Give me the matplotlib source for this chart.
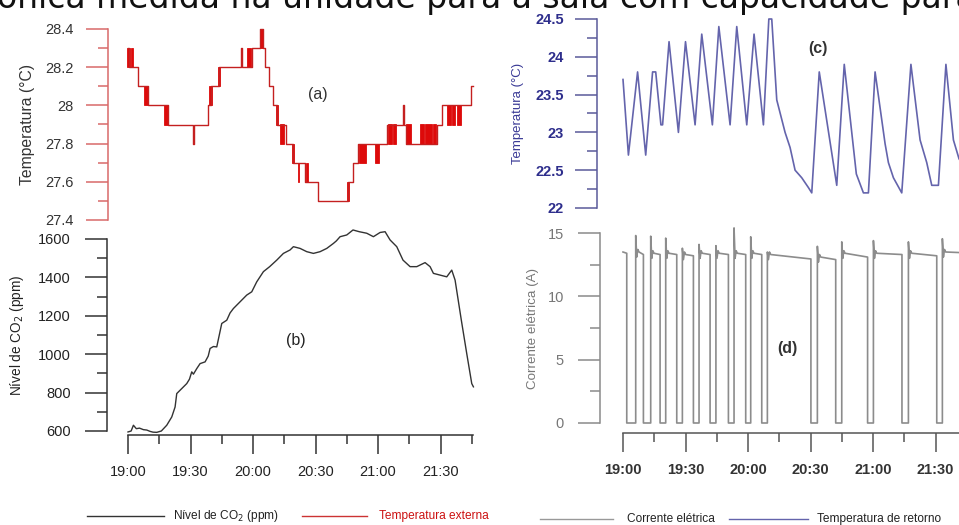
import matplotlib
matplotlib.use("Agg")
import matplotlib.pyplot as plt
from matplotlib.lines import Line2D
from matplotlib.ticker import MultipleLocator, FuncFormatter

# --- data (minutes after 19:00) ---
# (a) external temperature, step levels
temp_ext_t = [0, 0.6, 5.0, 9.8, 19.4, 31.2, 31.6, 38.6, 39.7, 43.8, 54.4, 54.8, 59.4, 63.5,
              65.0, 65.8, 67.8, 69.8, 71.4, 75.8, 79.4, 85.0, 91.4, 105.8, 107.8, 110.6,
              124.2, 132.0, 132.4, 133.4, 148.2, 150.6, 164.8, 165.4]
temp_ext_v = [28.3, 28.2, 28.1, 28.0, 27.9, 27.8, 27.9, 28.0, 28.1, 28.2, 28.3, 28.2, 28.3, 28.4,
              28.3, 28.2, 28.1, 28.0, 27.9, 27.8, 27.7, 27.6, 27.5, 27.6, 27.7, 27.8,
              27.9, 28.0, 27.9, 27.8, 27.9, 28.0, 28.1, 28.1]
# flicker blocks between two levels (start, end, low level; high = low + 0.1)
flick_start = [-0.3, 1.6, 7.7, 17.2, 39.0, 43.2, 57.2, 63.2, 71.0, 73.0, 78.8, 81.6, 85.2,
               105.0, 111.0, 118.4, 124.8, 127.4, 133.6, 140.0, 142.6, 146.6, 153.2, 155.6, 158.0]
flick_end = [0.8, 2.4, 9.6, 19.0, 40.2, 44.2, 59.0, 64.8, 71.8, 75.0, 79.6, 82.2, 86.2,
             106.2, 114.0, 120.4, 126.8, 128.6, 135.8, 142.0, 146.0, 147.8, 155.0, 157.0, 160.0]
flick_lo = [28.2, 28.2, 28.0, 27.9, 28.0, 28.1, 28.2, 28.3, 27.9, 27.8, 27.7, 27.6, 27.6,
            27.5, 27.7, 27.7, 27.8, 27.8, 27.8, 27.8, 27.8, 27.8, 27.9, 27.9, 27.9]

# (b) CO2 level
co2_t = [0, 1.5, 2.6, 4, 5.5, 7.4, 9, 10.6, 12, 13.8, 16, 18.6, 21, 22.6, 23.4, 25.8, 28.2, 29.5,
         30.6, 31.4, 33, 34.6, 37, 38.5, 39.4, 41, 42.6, 45, 47.4, 49, 50.6, 53.8, 57, 59.4,
         61.8, 65, 68, 71.4, 74.6, 77.8, 79.4, 82.6, 85.8, 89, 92.2, 95.4, 98.6, 100, 101.8,
         105, 108, 111, 114.6, 117.8, 121, 123.4, 125.8, 129, 132, 135.4, 138.6, 142.6, 145,
         146.6, 149.8, 153, 155.4, 157, 160, 162.6, 165, 165.8]
co2_v = [595, 600, 630, 612, 615, 607, 605, 598, 594, 593, 600, 630, 673, 725, 795, 821, 847, 870,
         908, 896, 925, 951, 960, 990, 1030, 1040, 1038, 1160, 1177, 1215, 1238, 1273, 1308, 1325,
         1377, 1430, 1456, 1490, 1525, 1543, 1560, 1551, 1534, 1525, 1534, 1551, 1577, 1590, 1612,
         1621, 1647, 1638, 1630, 1612, 1634, 1638, 1595, 1560, 1490, 1456, 1456, 1477, 1456,
         1421, 1412, 1403, 1438, 1386, 1177, 1003, 847, 830]

# (c) return temperature
ret_t = [0, 2.6, 7.0, 10.9, 14.2, 15.7, 18.2, 19.0, 22.1, 26.6, 30.0, 34.6, 37.8, 42.9, 46.0,
         51.4, 54.6, 59.4, 62.9, 67.4, 70.0, 71.4, 73.8, 77.8, 80.2, 82.6, 85.8, 89.0, 90.6,
         94.2, 102.6, 106.2, 112.0, 115.4, 117.8, 121.0, 125.8, 127.4, 129.8, 133.8, 138.2,
         142.6, 145.8, 148.2, 151.4, 155.0, 158.6, 161.3, 165.0]
ret_v = [23.7, 22.7, 23.8, 22.7, 23.8, 23.8, 23.1, 23.1, 24.2, 23.0, 24.2, 23.1, 24.3, 23.1, 24.4,
         23.1, 24.4, 23.1, 24.3, 23.1, 24.5, 24.5, 23.43, 23.0, 22.8, 22.5, 22.4, 22.27, 22.2,
         23.8, 22.3, 23.9, 22.45, 22.2, 22.2, 23.8, 22.85, 22.6, 22.4, 22.2, 23.9,
         22.9, 22.6, 22.3, 22.3, 23.9, 22.9, 22.65, 22.5]

# (d) electric current, one row per compressor cycle
on_start = [0, 6.1, 13.3, 20.5, 28.5, 36.5, 44.6, 53.3, 61.3, 69.3, 93.3, 105.0, 120.2, 137.0, 153.3]
on_end = [1.8, 9.8, 17.8, 25.8, 33.8, 41.8, 50.6, 58.9, 66.6, 90.2, 102.1, 117.4, 133.9, 150.6, 170]
on_peak = [13.5, 14.8, 14.75, 14.6, 13.8, 14.1, 14.0, 15.4, 14.7, 13.5, 13.95, 14.3, 14.4, 14.3, 14.55]
lvl_start = [13.5, 13.5, 13.4, 13.4, 13.3, 13.4, 13.4, 13.4, 13.4, 13.3, 13.1, 13.4, 13.4, 13.4, 13.5]
lvl_end = [13.4, 13.3, 13.3, 13.3, 13.2, 13.3, 13.3, 13.3, 13.3, 12.95, 12.9, 13.1, 13.3, 13.2, 13.4]

tick_hours = ["19:00", "19:30", "20:00", "20:30", "21:00", "21:30"]

W, H = 959, 525
PX_PER_MIN = 62.5 / 30
FONT = "Liberation Sans"


def px_axes(fig, x0, y0, x1, y1, x_1900):
    ax = fig.add_axes([x0 / W, 1 - y1 / H, (x1 - x0) / W, (y1 - y0) / H])
    ax.set_xlim((x0 - x_1900) / PX_PER_MIN, (x1 - x_1900) / PX_PER_MIN)
    ax.patch.set_visible(False)
    for s in ["top", "right", "bottom"]:
        ax.spines[s].set_visible(False)
    return ax


def style_y(ax, color, lab_color, major, minor, lo, hi, pad, size, weight="normal"):
    ax.set_ylim(lo, hi)
    ax.spines["left"].set_bounds(lo, hi)
    ax.spines["left"].set_color(color)
    ax.spines["left"].set_linewidth(1.1)
    ax.yaxis.set_major_locator(MultipleLocator(major))
    ax.yaxis.set_minor_locator(MultipleLocator(minor))
    ax.yaxis.set_major_formatter(FuncFormatter(lambda v, p: "%g" % round(v, 2)))
    ax.tick_params(axis="y", which="major", length=16, width=1.1, color=color, pad=pad,
                   labelcolor=lab_color, labelsize=size)
    ax.tick_params(axis="y", which="minor", length=7, width=1.1, color=color)
    for t in ax.get_yticklabels():
        t.set_fontfamily(FONT)
        t.set_fontweight(weight)


def style_x(ax, offset, color, lab_color, end, weight="normal"):
    ax.spines["bottom"].set_visible(True)
    ax.spines["bottom"].set_position(("outward", offset))
    ax.spines["bottom"].set_bounds(0, end)
    ax.spines["bottom"].set_color(color)
    ax.spines["bottom"].set_linewidth(1.1)
    ax.set_xticks([0, 30, 60, 90, 120, 150])
    ax.set_xticklabels(tick_hours)
    ax.set_xticks([15, 45, 75, 105, 135, 165], minor=True)
    ax.tick_params(axis="x", which="major", length=13.5, width=1.1, color=color, pad=8,
                   labelcolor=lab_color, labelsize=10.5)
    ax.tick_params(axis="x", which="minor", length=6.5, width=1.1, color=color)
    for t in ax.get_xticklabels():
        t.set_fontfamily(FONT)
        t.set_fontweight(weight)


fig = plt.figure(figsize=(W / 100, H / 100), dpi=100)

# clipped caption line at the top
fig.text(-3 / W, 1 - 8 / H, "ônica medida na unidade para a sala com capacidade para",
         fontsize=23.8, family="DejaVu Sans", color="#111111", va="baseline", ha="left")

# (a) external temperature
ax_a = px_axes(fig, 108, 29, 480, 220, 128)
ax_a.set_xticks([])
style_y(ax_a, "#d86a6a", "#333333", 0.2, 0.1, 27.4, 28.4, 9, 10.5)
ax_a.bar(flick_start, [0.1] * len(flick_lo), bottom=flick_lo,
         width=[e - s for s, e in zip(flick_start, flick_end)], align="edge",
         color="#dd0a0a", edgecolor="#dd0a0a", linewidth=0.6, clip_on=False)
ax_a.plot(temp_ext_t, temp_ext_v, drawstyle="steps-post", color="#c42020", lw=1.0, clip_on=False)
ax_a.set_ylabel("Temperatura (°C)", family=FONT, fontsize=11.3, color="#333333")
ax_a.yaxis.set_label_coords(-73 / 372, 0.5)
fig.text(318 / W, 1 - 95 / H, "(a)", fontsize=11.5, family=FONT, color="#333333",
         ha="center", va="center")

# (b) CO2
ax_b = px_axes(fig, 107, 239, 480, 431, 128)
style_y(ax_b, "#333333", "#222222", 200, 100, 600, 1600, 10, 10.5)
style_x(ax_b, 2.9, "#333333", "#222222", 165.4)
ax_b.plot(co2_t, co2_v, color="#333333", lw=1.0, clip_on=False)
ax_b.set_ylabel("Nível de CO$_2$ (ppm)", family=FONT, fontsize=9.8, color="#222222")
ax_b.yaxis.set_label_coords(-81 / 373, 0.5)
fig.text(296 / W, 1 - 340 / H, "(b)", fontsize=11.5, family=FONT, color="#222222",
         ha="center", va="center")

# (c) return temperature
ax_c = px_axes(fig, 597, 19, 1000, 208, 623)
ax_c.set_xticks([])
style_y(ax_c, "#5a5a9a", "#2e2e8c", 0.5, 0.25, 22, 24.5, 8, 10.5, "bold")
ax_c.plot(ret_t, ret_v, color="#6464ac", lw=1.2, clip_on=False)
ax_c.set_ylabel("Temperatura (°C)", family=FONT, fontsize=9.5, color="#3a3a96")
ax_c.yaxis.set_label_coords(-73 / 403, 0.5)
fig.text(818 / W, 1 - 48 / H, "(c)", fontsize=11.5, family=FONT, color="#333333",
         ha="center", va="center", fontweight="bold")

# (d) electric current
cur_t, cur_v = [], []
for i in range(len(on_start)):
    s, e = on_start[i], on_end[i]
    if i == 0:
        cur_t += [s]
        cur_v += [lvl_start[i]]
    else:
        cur_t += [s, s, s + 0.5, s + 1.0, s + 1.6]
        cur_v += [0, on_peak[i], lvl_start[i] - 0.4, lvl_start[i] + 0.2, lvl_start[i]]
    cur_t += [e, e]
    cur_v += [lvl_end[i], 0]

ax_d = px_axes(fig, 600, 233, 1000, 423, 623)
style_y(ax_d, "#8a8a8a", "#777777", 5, 2.5, 0, 15, 10, 10.5)
style_x(ax_d, 7.2, "#555555", "#333333", 200, "bold")
ax_d.plot(cur_t, cur_v, color="#8c8c8c", lw=1.2, clip_on=False)
ax_d.set_ylabel("Corrente elétrica (A)", family=FONT, fontsize=9.6, color="#777777")
ax_d.yaxis.set_label_coords(-61 / 400, 0.5)
fig.text(787 / W, 1 - 349 / H, "(d)", fontsize=11.5, family=FONT, color="#333333",
         ha="center", va="center", fontweight="bold")


# legends drawn at figure level
def legend_item(x0, x1, y, color, label, tx, tcolor):
    fig.add_artist(Line2D([x0 / W, x1 / W], [1 - y / H, 1 - y / H], color=color, lw=1.0))
    fig.text(tx / W, 1 - y / H, label, fontsize=8.6, family=FONT, color=tcolor,
             ha="left", va="center")


legend_item(87, 164, 516, "#333333", "Nível de CO$_2$ (ppm)", 173, "#222222")
legend_item(302, 367, 516, "#cc3333", "Temperatura externa", 379, "#cc1111")
legend_item(540, 613, 519, "#999999", "Corrente elétrica", 627, "#222222")
legend_item(729, 808, 519, "#6464ac", "Temperatura de retorno", 817, "#222222")

fig.savefig("out.png", dpi=100)
